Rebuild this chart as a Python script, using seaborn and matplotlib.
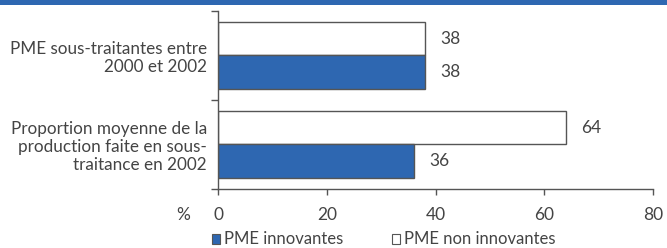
import pandas as pd
import matplotlib.pyplot as plt
import seaborn as sns
from matplotlib.patches import Rectangle

# data
categories = ["PME sous-traitantes entre\n2000 et 2002",
              "Proportion moyenne de la\nproduction faite en sous-\ntraitance en 2002"]
non_innovantes = [38, 64]
innovantes = [38, 36]
series = ["PME non innovantes", "PME innovantes"]
xticks = [0, 20, 40, 60, 80]

blue = "#2E67B1"
grey = "#444444"

df = pd.DataFrame({
    "cat": categories * 2,
    "val": non_innovantes + innovantes,
    "serie": [series[0]] * 2 + [series[1]] * 2,
})

sns.set_theme(style="white")
plt.rcParams['font.family'] = ['Lato', 'DejaVu Sans']
plt.rcParams['text.color'] = grey

fig = plt.figure(figsize=(6.67, 2.48), dpi=100)
ax = fig.add_axes([0.327, 0.238, 0.652, 0.718])

sns.barplot(data=df, y="cat", x="val", hue="serie", hue_order=series,
            palette={series[0]: "white", series[1]: blue}, saturation=1,
            orient="h", width=0.75, edgecolor="#555555", linewidth=1,
            legend=False, ax=ax)

# value labels
for cont in ax.containers:
    ax.bar_label(cont, padding=11, fontsize=12.5, color=grey)

ax.set_xlim(0, 80)
ax.set_ylim(1.5, -0.5)
ax.set_xticks(xticks)
ax.set_yticks([-0.5, 0.5, 1.5], minor=False)
ax.set_yticklabels([])
ax.set_yticks([0, 1], minor=True)
ax.set_yticklabels(categories, minor=True, fontsize=12.3, color=grey, linespacing=1.15)
ax.tick_params(axis="y", which="minor", length=0, pad=8)
ax.tick_params(axis="y", which="major", length=5, width=1, color="#555555", direction="out", left=True)
ax.tick_params(axis="x", length=4, width=1, color="#555555", direction="out", bottom=True,
               labelsize=12.5, labelcolor=grey, pad=9)
ax.set_xlabel("")
ax.set_ylabel("")
for s in ["top", "right"]:
    ax.spines[s].set_visible(False)
for s in ["left", "bottom"]:
    ax.spines[s].set_color("#555555")
    ax.spines[s].set_linewidth(1)

fig.text(183 / 667, 1 - 215 / 248, "%", ha="center", va="center", fontsize=12.5, color=grey)

# legend squares at the bottom
fig.patches.append(Rectangle((212 / 667, 1 - 244 / 248), 8 / 667, 10 / 248, transform=fig.transFigure,
                             facecolor=blue, edgecolor="#555555", linewidth=0.8))
fig.text(224 / 667, 1 - 239 / 248, "PME innovantes", ha="left", va="center", fontsize=12, color=grey)
fig.patches.append(Rectangle((392 / 667, 1 - 244 / 248), 8 / 667, 10 / 248, transform=fig.transFigure,
                             facecolor="white", edgecolor="#555555", linewidth=0.8))
fig.text(404 / 667, 1 - 239 / 248, "PME non innovantes", ha="left", va="center", fontsize=12, color=grey)

# blue band at the top
fig.patches.append(Rectangle((0, 1 - 5 / 248), 1, 5 / 248, transform=fig.transFigure,
                             facecolor=blue, edgecolor="none"))

fig.savefig("out.png", dpi=100)
